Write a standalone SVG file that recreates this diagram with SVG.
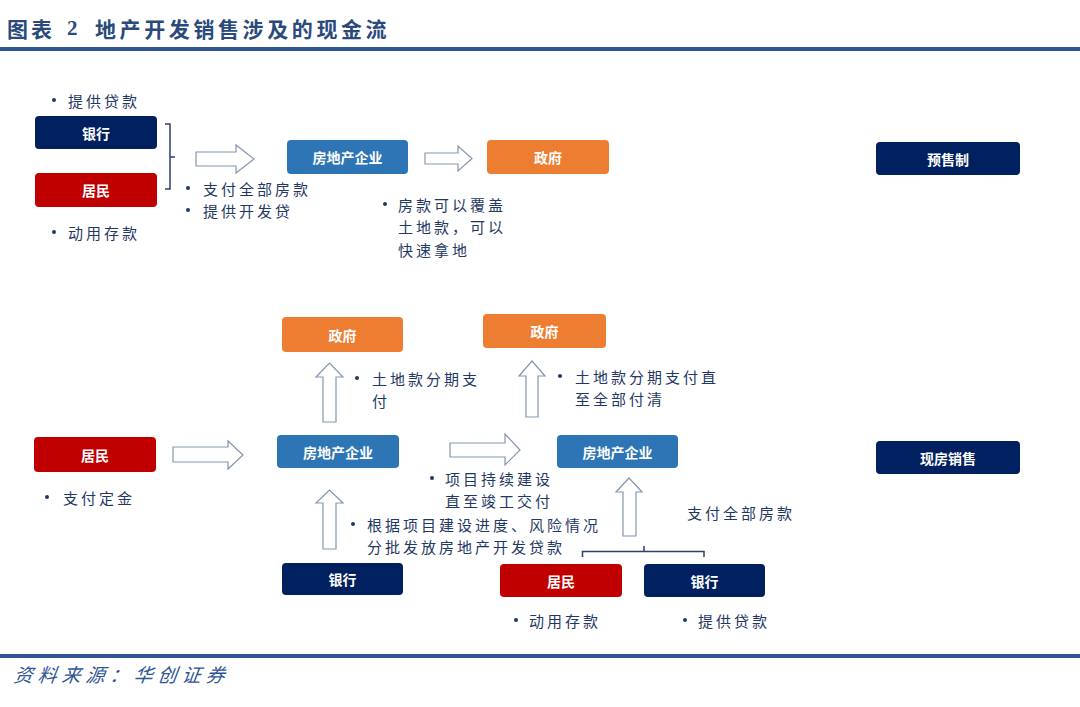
<svg xmlns="http://www.w3.org/2000/svg" width="1080" height="707" viewBox="0 0 1080 707">
<defs>
<style>
.node text{font-family:"Noto Sans CJK SC","Noto Sans",sans-serif;font-weight:bold;font-size:14px;fill:#fff;text-anchor:middle;dominant-baseline:central}
.navy{fill:#002060}
.red{fill:#c00000}
.blue{fill:#2e75b6}
.orange{fill:#ed7d31}
.lbl{font-family:"Noto Sans CJK SC","Noto Sans",sans-serif;font-size:15px;fill:#1f3864;letter-spacing:3px;dominant-baseline:central}
.bul{fill:#1f3864}
.arr{fill:#fff;stroke:#8497b0;stroke-width:1.2}
.brk{fill:none;stroke:#2f3f6e;stroke-width:1.5}
</style>
</defs>
<rect width="1080" height="707" fill="#fff"/>
<!-- title -->
<text x="7" y="28" font-family="'Noto Sans CJK SC',sans-serif" font-size="21" font-weight="bold" fill="#2a4a7c" letter-spacing="3" dominant-baseline="central">图表</text>
<text x="67" y="28" font-family="'Liberation Serif',serif" font-size="21" font-weight="bold" fill="#2a4a7c" dominant-baseline="central">2</text>
<text x="95" y="28" font-family="'Noto Sans CJK SC',sans-serif" font-size="21" font-weight="bold" fill="#2a4a7c" letter-spacing="3.6" dominant-baseline="central">地产开发销售涉及的现金流</text>
<rect x="0" y="47" width="1080" height="4" fill="#2f5597"/>
<rect x="0" y="654" width="1080" height="4" fill="#2f5597"/>
<text x="15" y="674" font-family="'Noto Sans CJK SC',sans-serif" font-size="19" font-style="italic" fill="#2f5597" letter-spacing="5" dominant-baseline="central" transform="skewX(-8) translate(94 0)">资料来源：华创证券</text>

<!-- connectors -->
<g id="connectors">
<polygon class="arr" points="196,152 236,152 236,145 254,159 236,173 236,166 196,166"/>
<polygon class="arr" points="425,153 458,153 458,146 472,158.5 458,171 458,164 425,164"/>
<polygon class="arr" points="173,447 228,447 228,441 243,455 228,469 228,462 173,462"/>
<polygon class="arr" points="450,443 505,443 505,434 520,450 505,465 505,457 450,457"/>
<polygon class="arr" points="323,422 323,377 316,377 329.5,363 343,377 336,377 336,422"/>
<polygon class="arr" points="526,417 526,376 519,376 532,361 545,376 538,376 538,417"/>
<polygon class="arr" points="323,549 323,503 316,503 329.5,490 343,503 336,503 336,549"/>
<polygon class="arr" points="623,536 623,492 616,492 629,478 642,492 636,492 636,536"/>
<path class="brk" d="M165,124 H170 V189 H165 M170,157 H175"/>
<path class="brk" d="M582.5,557 V551.5 H704 V557 M644,551.5 V546"/>
</g>

<!-- nodes -->
<g id="n-bank1" class="node"><rect class="navy" x="35" y="116" width="122" height="33" rx="4"/><text x="96" y="132.5">银行</text></g>
<g id="n-res1" class="node"><rect class="red" x="35" y="173" width="122" height="34" rx="4"/><text x="96" y="190">居民</text></g>
<g id="n-dev1" class="node"><rect class="blue" x="287" y="140" width="121" height="34" rx="4"/><text x="347.5" y="157">房地产企业</text></g>
<g id="n-gov1" class="node"><rect class="orange" x="487" y="140" width="122" height="34" rx="4"/><text x="548" y="157">政府</text></g>
<g id="n-presale" class="node"><rect class="navy" x="876" y="142" width="144" height="33" rx="4"/><text x="948" y="158.5">预售制</text></g>

<g id="n-gov2" class="node"><rect class="orange" x="282" y="317" width="121" height="35" rx="4"/><text x="342.5" y="334.5">政府</text></g>
<g id="n-gov3" class="node"><rect class="orange" x="483" y="314" width="123" height="34" rx="4"/><text x="544.5" y="331">政府</text></g>
<g id="n-res2" class="node"><rect class="red" x="34" y="437" width="122" height="35" rx="4"/><text x="95" y="454.5">居民</text></g>
<g id="n-dev2" class="node"><rect class="blue" x="277" y="435" width="122" height="33" rx="4"/><text x="338" y="451.5">房地产企业</text></g>
<g id="n-dev3" class="node"><rect class="blue" x="557" y="435" width="121" height="33" rx="4"/><text x="617.5" y="451.5">房地产企业</text></g>
<g id="n-ready" class="node"><rect class="navy" x="876" y="441" width="144" height="33" rx="4"/><text x="948" y="457.5">现房销售</text></g>
<g id="n-bank2" class="node"><rect class="navy" x="282" y="563" width="121" height="32" rx="4"/><text x="342.5" y="579">银行</text></g>
<g id="n-res3" class="node"><rect class="red" x="500" y="564" width="122" height="33" rx="4"/><text x="561" y="580.5">居民</text></g>
<g id="n-bank3" class="node"><rect class="navy" x="644" y="564" width="121" height="33" rx="4"/><text x="704.5" y="580.5">银行</text></g>

<!-- labels -->
<g id="labels">
<circle class="bul" cx="54" cy="100" r="2"/><text class="lbl" x="68" y="100">提供贷款</text>
<circle class="bul" cx="54" cy="232" r="2"/><text class="lbl" x="68" y="232">动用存款</text>
<circle class="bul" cx="188" cy="188" r="2"/><text class="lbl" x="203" y="188">支付全部房款</text>
<circle class="bul" cx="188" cy="210" r="2"/><text class="lbl" x="203" y="210">提供开发贷</text>
<circle class="bul" cx="385" cy="204" r="2"/><text class="lbl" x="398" y="204">房款可以覆盖</text>
<text class="lbl" x="398" y="226.5">土地款，可以</text>
<text class="lbl" x="398" y="249">快速拿地</text>
<circle class="bul" cx="357" cy="378" r="2"/><text class="lbl" x="372" y="378">土地款分期支</text>
<text class="lbl" x="372" y="400">付</text>
<circle class="bul" cx="560" cy="376" r="2"/><text class="lbl" x="575" y="376">土地款分期支付直</text>
<text class="lbl" x="575" y="398">至全部付清</text>
<circle class="bul" cx="47" cy="497" r="2"/><text class="lbl" x="63" y="497">支付定金</text>
<circle class="bul" cx="432" cy="478" r="2"/><text class="lbl" x="445" y="478">项目持续建设</text>
<text class="lbl" x="445" y="500">直至竣工交付</text>
<circle class="bul" cx="353" cy="524" r="2"/><text class="lbl" x="367" y="524" letter-spacing="3.5">根据项目建设进度、风险情况</text>
<text class="lbl" x="367" y="546" letter-spacing="3.5">分批发放房地产开发贷款</text>
<text class="lbl" x="687" y="512">支付全部房款</text>
<circle class="bul" cx="516" cy="620" r="2"/><text class="lbl" x="529" y="620">动用存款</text>
<circle class="bul" cx="685" cy="620" r="2"/><text class="lbl" x="698" y="620">提供贷款</text>
</g>
</svg>
